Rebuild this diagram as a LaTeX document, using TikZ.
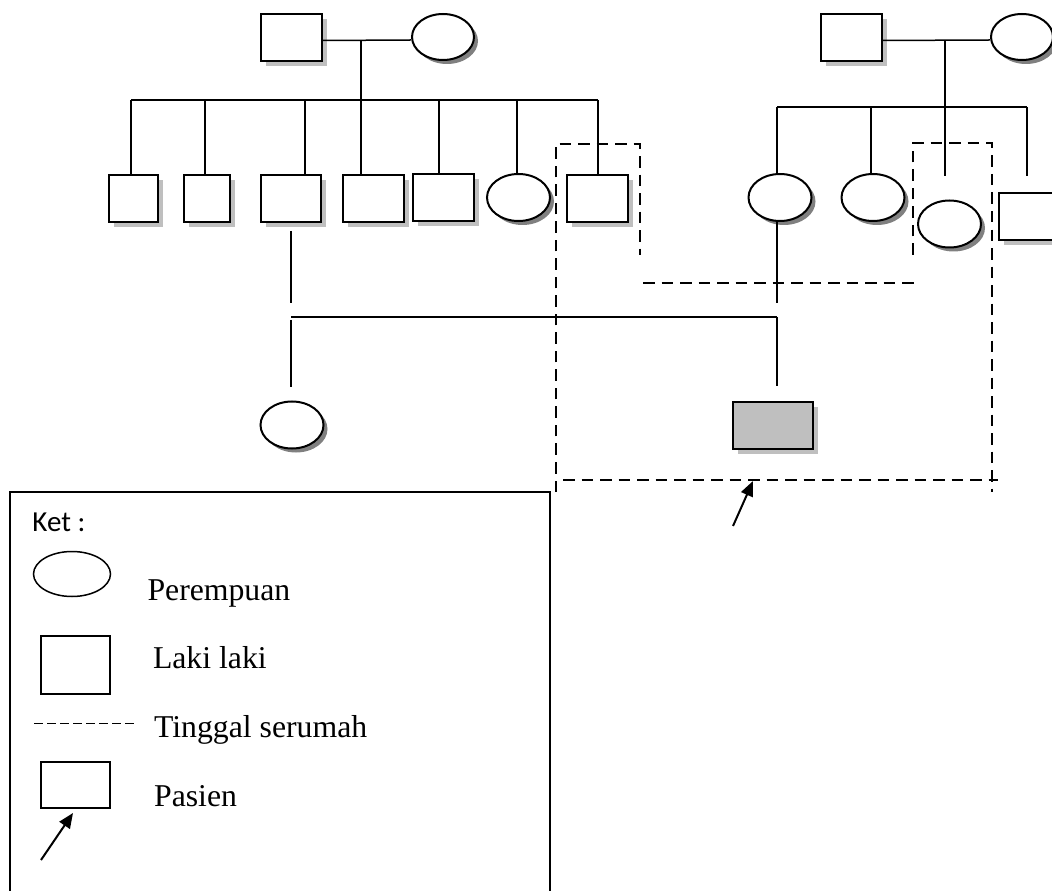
\documentclass[tikz,border=0pt]{standalone}
\usepackage{fontspec}
\setmainfont{Liberation Serif}
\newfontfamily\ketfont{Carlito}
\usetikzlibrary{shapes.geometric,shadows,arrows.meta}

\tikzset{
  lk/.style={draw, line width=0.8pt, fill=white, inner sep=0pt,
    minimum width=24.4pt, minimum height=18.8pt,
    drop shadow={shadow xshift=2pt, shadow yshift=-2pt, fill=gray!50, opacity=1}},
  pr/.style={ellipse, draw, line width=0.8pt, fill=white, inner sep=0pt,
    minimum width=25.2pt, minimum height=18.8pt,
    drop shadow={shadow xshift=1.6pt, shadow yshift=-1.6pt, fill=gray, opacity=1}},
  garis/.style={line width=0.6pt},
  serumah/.style={line width=0.9pt, dash pattern=on 4.6pt off 2.8pt},
  panah/.style={line width=0.8pt, -{Triangle[length=6pt,width=5pt]}},
  ket/.style={anchor=base west, inner sep=0pt, font=\fontsize{12.7}{15}\selectfont},
  lgbox/.style={draw, line width=0.6pt, inner sep=0pt},
}

\begin{document}
\begin{tikzpicture}[x=0.4pt, y=-0.4pt]
  \useasboundingbox (0,0) rectangle (1052,891);
  \clip (0,0) rectangle (1052,891);

  % generasi pertama
  \node[lk] (kakekA) at (291.5,37.5) {};
  \node[pr, minimum width=24.8pt, minimum height=18.4pt] (nenekA) at (443,37) {};
  \node[lk] (kakekB) at (851.5,37.5) {};
  \node[pr, minimum width=24.8pt, minimum height=18.4pt] (nenekB) at (1022,37) {};

  % anak-anak keluarga kiri
  \node[lk, minimum width=19.6pt] (a1) at (133.5,198.5) {};
  \node[lk, minimum width=18.4pt] (a2) at (207,198.5) {};
  \node[lk, minimum width=24pt] (a3) at (291,198.5) {};
  \node[lk] (a4) at (373.5,199) {};
  \node[lk] (a5) at (443.5,197.5) {};
  \node[pr] (a6) at (518.5,197.5) {};
  \node[lk] (a7) at (597.5,199) {};

  % anak-anak keluarga kanan
  \node[pr] (b1) at (780,197.5) {};
  \node[pr] (b2) at (873,197.5) {};
  \node[pr] (b3) at (949.5,224) {};
  \node[lk] (b4) at (1029,216.5) {};

  % cucu
  \node[pr] (cucu) at (292,425) {};
  \node[lk, fill=gray!50, minimum width=32pt] (pasien) at (773,425.5) {};

  % garis keturunan kiri
  \draw[garis] ([yshift=-1.2pt]kakekA.east) -- ([yshift=-1.2pt]nenekA.west);
  \coordinate (tA) at (361,40.5);
  \draw[garis] (tA) -- (tA |- a4.north);
  \draw[garis] (131,100) -- (598,100);
  \foreach \n/\x in {a1/131, a2/205, a3/305, a5/439, a6/517, a7/598} {
    \coordinate (s\n) at (\x,100);
    \draw[garis] (s\n) -- (s\n |- \n.north);
  }

  % garis keturunan kanan
  \draw[garis] ([yshift=-1.2pt]kakekB.east) -- ([yshift=-1.2pt]nenekB.west);
  \coordinate (tB) at (945,40.5);
  \coordinate (ujungB3) at (945,176);
  \coordinate (ujungB4) at (1027,176);
  \draw[garis] (777,107) -- (1027,107);
  \draw[garis] (tB) -- (ujungB3);
  \coordinate (sb4) at (1027,107);
  \draw[garis] (sb4) -- (ujungB4);
  \foreach \n/\x in {b1/777, b2/871} {
    \coordinate (s\n) at (\x,107);
    \draw[garis] (s\n) -- (s\n |- \n.north);
  }

  % perkawinan a3 - b1
  \coordinate (ayahBawah) at (291,303);
  \coordinate (ibuBawah) at (777,303);
  \coordinate (kawinKiri) at (291,317);
  \coordinate (kawinKanan) at (777,317);
  \draw[garis] ([yshift=-3.2pt]a3.south) -- (ayahBawah);
  \draw[garis] (b1.south -| ibuBawah) -- (ibuBawah);
  \draw[garis] (kawinKiri) -- (kawinKanan);
  \draw[garis] ([yshift=-1.2pt]kawinKiri) -- ([yshift=5.2pt]cucu.north -| kawinKiri);
  \draw[garis] (kawinKanan) -- ([yshift=6pt]pasien.north -| kawinKanan);

  % tinggal serumah
  \draw[serumah] (556,492) -- (556,144) -- (640,144) -- (640,255);
  \draw[serumah] (643,283) -- (915,283);
  \draw[serumah] (913,255) -- (913,143) -- (992,143) -- (992,492);
  \draw[serumah] (563,480) -- (998,480);

  % penunjuk pasien
  \coordinate (ekorPanah) at (733,526);
  \coordinate (ujungPanah) at (753,481);
  \draw[panah] (ekorPanah) -- (ujungPanah);

  % keterangan
  \draw[line width=0.6pt] (10,492) rectangle (550,900);
  \node[anchor=base west, inner sep=0pt, font=\ketfont\fontsize{11.6}{14}\selectfont] (ket) at (32,531) {Ket :};
  \node[lgbox, ellipse, minimum width=30.8pt, minimum height=18pt] (lgPr) at (72,574) {};
  \node[ket] (tPr) at (147,600) {Perempuan};
  \node[lgbox, minimum width=27.6pt, minimum height=23.2pt] (lgLk) at (75.5,665) {};
  \node[ket] (tLk) at (152.5,668) {Laki laki};
  \draw[line width=0.4pt, dash pattern=on 3.6pt off 1.6pt] (34,723) -- (138,723);
  \node[ket] (tSr) at (153.6,737) {Tinggal serumah};
  \node[lgbox, minimum width=27.6pt, minimum height=18.4pt] (lgPs) at (75.5,785) {};
  \node[ket] (tPs) at (153.6,806) {Pasien};
  \coordinate (ekorLg) at (41,860);
  \coordinate (ujungLg) at (73,813);
  \draw[panah] (ekorLg) -- (ujungLg);
\end{tikzpicture}
\end{document}
